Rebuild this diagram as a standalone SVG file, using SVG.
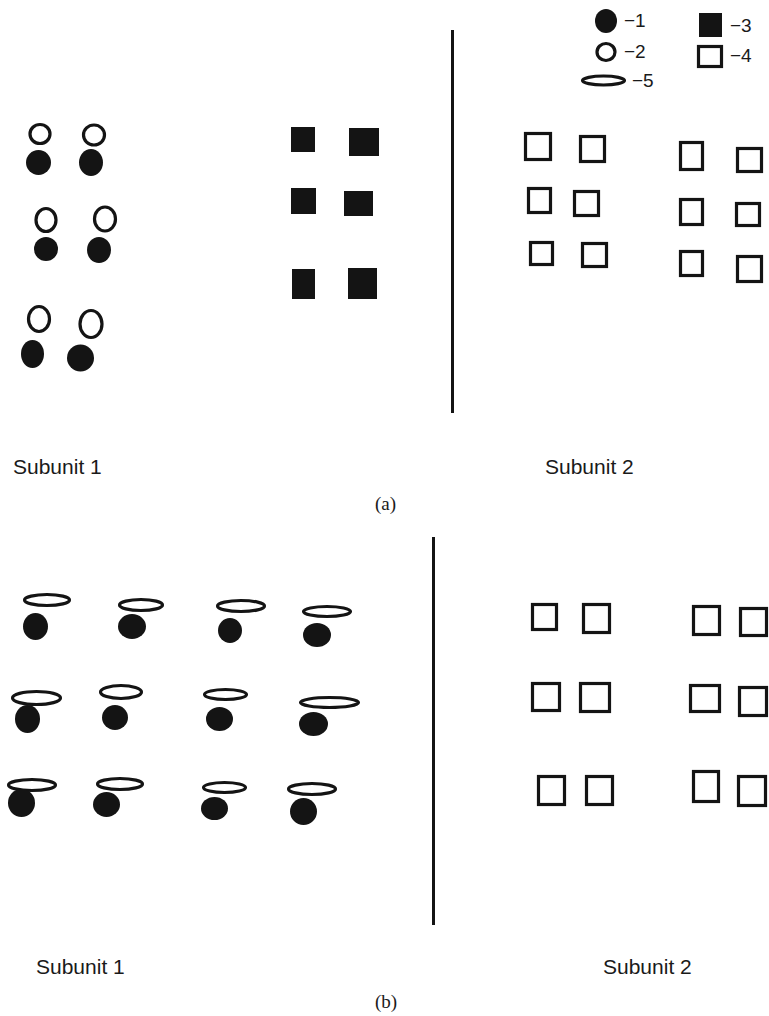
<svg xmlns="http://www.w3.org/2000/svg" width="769" height="1016" viewBox="0 0 769 1016">
<style>
.f{fill:#141414;stroke:none}
.o{fill:none;stroke:#141414;stroke-width:3.2}
.sep{stroke:#141414;stroke-width:3}
.lbl{font-family:"Liberation Sans",Arial,sans-serif;font-size:21px;fill:#1a1a1a}
.lg{font-family:"Liberation Sans",Arial,sans-serif;font-size:19px;fill:#1a1a1a}
.cap{font-family:"Liberation Serif","Times New Roman",serif;font-size:19px;fill:#1a1a1a}
</style>
<rect width="769" height="1016" fill="#fff"/>
<g id="legend">
<ellipse class="f" cx="606" cy="21" rx="11" ry="12"/>
<text class="lg" x="624" y="27">−1</text>
<ellipse class="o" cx="606" cy="52" rx="9" ry="8.5"/>
<text class="lg" x="624" y="58">−2</text>
<ellipse class="o" cx="603.5" cy="80.5" rx="21" ry="4.5"/>
<text class="lg" x="632" y="87">−5</text>
<rect class="f" x="699" y="13" width="23" height="24"/>
<text class="lg" x="730" y="32">−3</text>
<rect class="o" x="698.5" y="46.5" width="23" height="20"/>
<text class="lg" x="730" y="62">−4</text>
</g>
<g id="panel-a">
<g id="a-sub1-pairs">
<ellipse class="o" cx="40" cy="134" rx="10" ry="9.5"/>
<ellipse class="f" cx="38.5" cy="162.5" rx="12.5" ry="12.5"/>
<ellipse class="o" cx="94" cy="135" rx="10.5" ry="10"/>
<ellipse class="f" cx="91" cy="162.5" rx="12" ry="13.5"/>
<ellipse class="o" cx="46" cy="220" rx="10" ry="11.5"/>
<ellipse class="f" cx="46" cy="249" rx="12" ry="12"/>
<ellipse class="o" cx="105" cy="219" rx="10.5" ry="12"/>
<ellipse class="f" cx="99" cy="250" rx="12" ry="13"/>
<ellipse class="o" cx="39" cy="319" rx="10.5" ry="12.5"/>
<ellipse class="f" cx="32.5" cy="354" rx="11.5" ry="14"/>
<ellipse class="o" cx="91" cy="324" rx="11" ry="13.5"/>
<ellipse class="f" cx="80.5" cy="358" rx="13.5" ry="13.5"/>
</g>
<g id="a-sub1-squares">
<rect class="f" x="291" y="127" width="24" height="25"/>
<rect class="f" x="349" y="128" width="30" height="28"/>
<rect class="f" x="291" y="188" width="25" height="26"/>
<rect class="f" x="344" y="191" width="29" height="25"/>
<rect class="f" x="292" y="269" width="23" height="30"/>
<rect class="f" x="348" y="268" width="29" height="31"/>
</g>
<g id="a-sub2-squares">
<rect class="o" x="525.5" y="133.5" width="25" height="26"/>
<rect class="o" x="580.5" y="136.5" width="24" height="25"/>
<rect class="o" x="528.5" y="188.5" width="22" height="24"/>
<rect class="o" x="574.5" y="191.5" width="24" height="24"/>
<rect class="o" x="530.5" y="242.5" width="22" height="22"/>
<rect class="o" x="582.5" y="243.5" width="24" height="23"/>
<rect class="o" x="680.5" y="142.5" width="22" height="27"/>
<rect class="o" x="737.5" y="148.5" width="24" height="23"/>
<rect class="o" x="680.5" y="199.5" width="22" height="25"/>
<rect class="o" x="736.5" y="203.5" width="23" height="22"/>
<rect class="o" x="680.5" y="251.5" width="22" height="24"/>
<rect class="o" x="737.5" y="256.5" width="24" height="25"/>
</g>
<text class="lbl" x="13" y="474">Subunit 1</text>
<text class="lbl" x="545" y="474">Subunit 2</text>
<text class="cap" x="375" y="510">(a)</text>
</g>
<g id="panel-b">
<g id="b-sub1-pairs">
<ellipse class="o" cx="47" cy="600" rx="22.5" ry="5.5"/>
<ellipse class="f" cx="35.5" cy="626.5" rx="12.5" ry="13.5"/>
<ellipse class="o" cx="141" cy="605" rx="21.5" ry="5.5"/>
<ellipse class="f" cx="132" cy="626.5" rx="14" ry="12.5"/>
<ellipse class="o" cx="241" cy="606" rx="23.5" ry="5.5"/>
<ellipse class="f" cx="230" cy="630.5" rx="12" ry="12.5"/>
<ellipse class="o" cx="327" cy="611.5" rx="23.5" ry="5"/>
<ellipse class="f" cx="317" cy="635" rx="14" ry="12"/>
<ellipse class="o" cx="36.5" cy="698" rx="24" ry="6.5"/>
<ellipse class="f" cx="27.5" cy="719" rx="12.5" ry="14"/>
<ellipse class="o" cx="121" cy="692" rx="20.5" ry="6.5"/>
<ellipse class="f" cx="115" cy="717.5" rx="13" ry="12.5"/>
<ellipse class="o" cx="225.5" cy="694.5" rx="21" ry="5"/>
<ellipse class="f" cx="219.5" cy="719" rx="13.5" ry="12"/>
<ellipse class="o" cx="329.5" cy="702.5" rx="29" ry="5"/>
<ellipse class="f" cx="313.5" cy="724" rx="14.5" ry="12"/>
<ellipse class="o" cx="32" cy="785" rx="23.5" ry="5.5"/>
<ellipse class="f" cx="21.5" cy="803" rx="13.5" ry="14"/>
<ellipse class="o" cx="120" cy="784" rx="22.5" ry="5.5"/>
<ellipse class="f" cx="106.5" cy="804.5" rx="13.5" ry="12.5"/>
<ellipse class="o" cx="224.5" cy="787.5" rx="21" ry="5"/>
<ellipse class="f" cx="214.5" cy="808.5" rx="13.5" ry="11.5"/>
<ellipse class="o" cx="312" cy="789" rx="23.5" ry="5.5"/>
<ellipse class="f" cx="303.5" cy="811.5" rx="13.5" ry="13.5"/>
</g>
<g id="b-sub2-squares">
<rect class="o" x="532.5" y="604.5" width="24" height="25"/>
<rect class="o" x="583.5" y="604.5" width="26" height="28"/>
<rect class="o" x="693.5" y="606.5" width="26" height="28"/>
<rect class="o" x="740.5" y="608.5" width="26" height="27"/>
<rect class="o" x="532.5" y="683.5" width="27" height="27"/>
<rect class="o" x="580.5" y="683.5" width="29" height="28"/>
<rect class="o" x="690.5" y="685.5" width="29" height="26"/>
<rect class="o" x="739.5" y="687.5" width="27" height="28"/>
<rect class="o" x="538.5" y="776.5" width="26" height="28"/>
<rect class="o" x="586.5" y="776.5" width="26" height="28"/>
<rect class="o" x="693.5" y="771.5" width="25" height="30"/>
<rect class="o" x="738.5" y="776.5" width="27" height="29"/>
</g>
<text class="lbl" x="36" y="974">Subunit 1</text>
<text class="lbl" x="603" y="974">Subunit 2</text>
<text class="cap" x="375" y="1008">(b)</text>
</g>
<g id="connectors">
<line class="sep" x1="452.5" y1="30" x2="452.5" y2="413"/>
<line class="sep" x1="433.5" y1="537" x2="433.5" y2="925"/>
</g>
</svg>
